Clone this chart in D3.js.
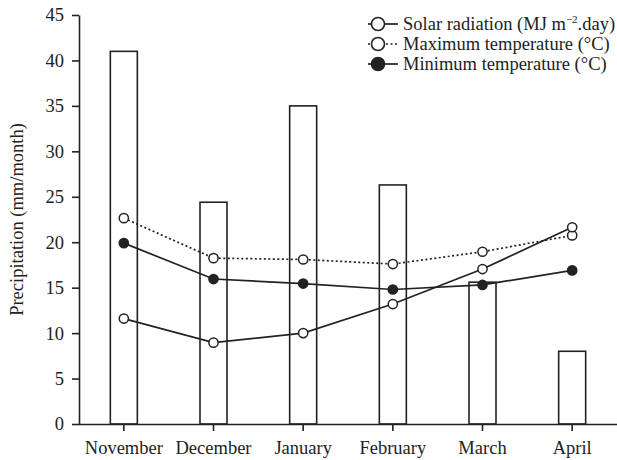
<!DOCTYPE html>
<html>
<head>
<meta charset="utf-8">
<script src="https://cdn.jsdelivr.net/npm/d3@7"></script>
<style>
  body { margin: 0; background: #fff; }
  text { font-family: "Liberation Serif", "DejaVu Serif", serif; fill: #222; }
</style>
</head>
<body>
<div id="chart"></div>
<script>
const months = ["November", "December", "January", "February", "March", "April"]
const precipitation = [41, 24.4, 35, 26.3, 15.6, 8]
const solarRadiation = [11.6, 8.95, 10, 13.2, 17.05, 21.65]
const maxTemperature = [22.65, 18.25, 18.1, 17.6, 18.95, 20.75]
const minTemperature = [19.9, 15.95, 15.45, 14.8, 15.3, 16.9]
const yTicks = [0, 5, 10, 15, 20, 25, 30, 35, 40, 45]

const seriesNames = [
  "Solar radiation (MJ m",
  "Maximum temperature (°C)",
  "Minimum temperature (°C)"
]

const width = 617
const height = 460
const ink = "#222"

const svg = d3.select("#chart").append("svg")
  .attr("width", width)
  .attr("height", height)

const x = d3.scaleBand()
  .domain(months)
  .range([79, 617])

const y = d3.scaleLinear()
  .domain([0, 45])
  .range([424, 15])

const barW = 27

// bars
svg.append("g")
  .selectAll("rect")
  .data(precipitation)
  .enter().append("rect")
  .attr("x", (d, i) => x(months[i]) + x.bandwidth() / 2 - barW / 2)
  .attr("y", d => y(d))
  .attr("width", barW)
  .attr("height", d => y(0) - y(d))
  .attr("fill", "#fff")
  .attr("stroke", ink)
  .attr("stroke-width", 1.6)

const cx = (d, i) => x(months[i]) + x.bandwidth() / 2

const line = d3.line()
  .x(cx)
  .y(d => y(d))

const series = [
  {values: maxTemperature, dash: "2,2.5", fill: "#fff"},
  {values: minTemperature, dash: null, fill: ink},
  {values: solarRadiation, dash: null, fill: "#fff"}
]

series.forEach(s => {
  svg.append("path")
    .datum(s.values)
    .attr("fill", "none")
    .attr("stroke", ink)
    .attr("stroke-width", 1.7)
    .attr("stroke-dasharray", s.dash)
    .attr("d", line)

  svg.append("g")
    .selectAll("circle")
    .data(s.values)
    .enter().append("circle")
    .attr("cx", cx)
    .attr("cy", d => y(d))
    .attr("r", 4.6)
    .attr("fill", s.fill)
    .attr("stroke", ink)
    .attr("stroke-width", 1.5)
})

// x-axis
const xAxis = svg.append("g")
  .attr("transform", `translate(0, ${y(0)})`)
  .call(d3.axisBottom(x).tickSize(7).tickSizeOuter(0))
xAxis.select(".domain").attr("d", `M79,0.5H617`)
xAxis.selectAll("line, path").attr("stroke", ink).attr("stroke-width", 1.6)
xAxis.selectAll("text")
  .attr("y", 30)
  .attr("dy", null)
  .attr("font-size", "18.5px")
  .attr("font-family", "Liberation Serif")
  .attr("fill", ink)

// y-axis
const yAxis = svg.append("g")
  .attr("transform", "translate(79,0)")
  .call(d3.axisLeft(y).tickValues(yTicks).tickSize(7).tickSizeOuter(0))
yAxis.selectAll("line, path").attr("stroke", ink).attr("stroke-width", 1.6)
yAxis.selectAll("text")
  .attr("x", -15)
  .attr("font-size", "18.5px")
  .attr("font-family", "Liberation Serif")
  .attr("fill", ink)

svg.append("text")
  .attr("transform", `translate(23, ${(y(0) + y(45)) / 2}) rotate(-90)`)
  .attr("text-anchor", "middle")
  .attr("font-size", "18.5px")
  .text("Precipitation (mm/month)")

// legend
const legend = svg.append("g")
legendRows = [
  {dash: null, fill: "#fff"},
  {dash: "2,2.5", fill: "#fff"},
  {dash: null, fill: ink}
]
legendRows.forEach((r, i) => {
  const ly = 24 + i * 20
  legend.append("line")
    .attr("x1", 368).attr("x2", 398)
    .attr("y1", ly).attr("y2", ly)
    .attr("stroke", ink)
    .attr("stroke-width", 1.7)
    .attr("stroke-dasharray", r.dash)
  legend.append("circle")
    .attr("cx", 378).attr("cy", ly)
    .attr("r", 6.5)
    .attr("fill", r.fill)
    .attr("stroke", ink)
    .attr("stroke-width", 1.6)
  const t = legend.append("text")
    .attr("x", 403).attr("y", ly + 6)
    .attr("font-size", "18.5px")
    .text(seriesNames[i])
  if (i == 0) {
    t.append("tspan").attr("dy", -7).attr("font-size", "11px").text("\u22122")
    t.append("tspan").attr("dy", 7).text(".day)")
  }
})
</script>
</body>
</html>
